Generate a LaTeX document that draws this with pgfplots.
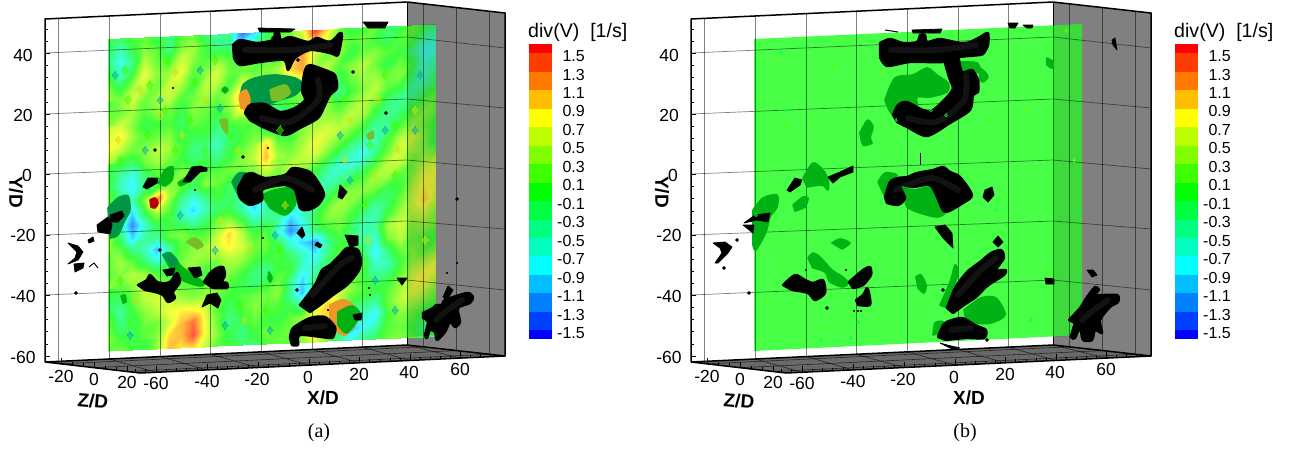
\documentclass[border=0pt]{standalone}
\usepackage{pgfplots}
\pgfplotsset{compat=1.18}
\usepackage{fontspec}
\setmainfont{Liberation Sans}
\newfontfamily\capfont{Liberation Serif}
\newcommand\fs[1]{\fontsize{#1}{#1}\selectfont}
\pgfplotsset{panel/.style={scale only axis,hide axis,clip=false,y dir=reverse,ymin=0,ymax=450,xmin=0,height=450pt,anchor=south west,
 point meta min=-1.5,point meta max=1.5,
 colormap={div}{rgb255=(60,60,255) rgb255=(60,105,255) rgb255=(60,155,255) rgb255=(60,205,255) rgb255=(60,255,255) rgb255=(60,255,205) rgb255=(60,255,155) rgb255=(60,255,105) rgb255=(60,255,60) rgb255=(105,255,60) rgb255=(155,255,60) rgb255=(205,255,60) rgb255=(255,255,60) rgb255=(255,205,60) rgb255=(255,155,60) rgb255=(255,105,60) rgb255=(255,60,60)}},
 gl/.style={draw=black,opacity=.5,line width=.7pt},
 hl/.style={draw=black,opacity=.65,line width=.6pt}}
\definecolor{isoG}{RGB}{0,178,20}
\definecolor{isoD}{RGB}{0,150,70}
\definecolor{isoO}{RGB}{120,190,40}
\definecolor{isoR}{RGB}{240,150,40}
\definecolor{wall}{RGB}{128,128,128}
\definecolor{fl}{RGB}{105,105,105}
\definecolor{plg}{RGB}{72,255,72}
\newcommand\poly[2]{\addplot[smooth,tension=.5,fill=#1,draw=#1,line width=1.6pt,line join=round] coordinates {#2} --cycle;}
\newcommand\blk[1]{\addplot[smooth,tension=.45,fill=black,draw=black,line width=2.4pt,line join=round] coordinates {#1} --cycle;}
\newcommand\tin[1]{\addplot[fill=black,draw=black,line width=.8pt,line join=round] coordinates {#1} --cycle;}
\newcommand\seg[2]{\addplot[#1] coordinates {#2};}
\newcommand\hi[1]{\addplot[smooth,draw={rgb,255:red,85;green,85;blue,85},line width=6pt,opacity=.22,line cap=round,line join=round] coordinates {#1};}
\newcommand\spk[2]{\addplot[only marks,mark=*,mark size=#1pt,black] coordinates {#2};}
\newcommand\sw[5]{\addplot[fill={rgb,255:red,#1;green,#2;blue,#3},draw=none] coordinates {(529,#4)(552,#4)(552,#5)(529,#5)} --cycle;}
\newcommand\lab[3]{\node[font=\fs{17.5}] at (axis cs:#1,#2) {#3};}
\newcommand\cb[2]{\node[font=\fs{16},anchor=east,inner sep=0pt] at (axis cs:585,#1) {#2};}
\newcommand\tex[4]{\addplot[only marks,mark=diamond*,mark size=#2pt,mark options={color=#1,fill=#1,opacity=#3,line width=0pt}] coordinates {#4};}
% frame walls (behind the slice)
\newcommand\walls{
\addplot[fill=white,draw=none] coordinates {(45,19)(407,2)(407,345)(45,362)} --cycle;
\addplot[fill=wall,draw=none] coordinates {(407,2)(505,13)(505,356)(407,345)} --cycle;
\addplot[fill=fl,draw=none] coordinates {(45,362)(407,345)(505,356)(140,373)} --cycle;
}
% grid, edges, ticks, labels, colour bar
\newcommand\frameall[1]{
\seg{gl}{(58,18.4)(58,361.4)}\seg{gl}{(109,16)(109,359)}\seg{gl}{(160,13.6)(160,356.6)}\seg{gl}{(210,11.2)(210,354.2)}\seg{gl}{(261,8.8)(261,351.8)}\seg{gl}{(312,6.5)(312,349.5)}\seg{gl}{(362,4.1)(362,347.1)}
\seg{gl}{(45,53)(407,37)}\seg{gl}{(45,114)(407,99)}\seg{gl}{(45,174)(407,160)}\seg{gl}{(45,235)(407,221)}\seg{gl}{(45,295)(407,280)}
\seg{gl}{(407,37)(505,48)}\seg{gl}{(407,99)(505,108)}\seg{gl}{(407,160)(505,169)}\seg{gl}{(407,221)(505,229)}\seg{gl}{(407,280)(505,290)}
\seg{gl}{(423,3.8)(423,346.8)}\seg{gl}{(456,7.6)(456,350.6)}\seg{gl}{(489,11.2)(489,354.2)}
\seg{hl}{(109,359)(156,372.3)}\seg{hl}{(160,356.6)(207,369.9)}\seg{hl}{(210,354.2)(258,367.5)}\seg{hl}{(261,351.8)(309,365.1)}\seg{hl}{(312,349.5)(359,362.8)}\seg{hl}{(362,347.1)(410,360.4)}\seg{hl}{(407,345)(460,358.1)}
\seg{hl}{(61,363.8)(423,346.8)}\seg{hl}{(94,367.7)(456,350.6)}\seg{hl}{(127,371.5)(489,354.2)}
\seg{draw=black,line width=.9pt}{(407,2)(407,26)}
\seg{draw=black,line width=.9pt}{(407,337)(407,345)}
\seg{draw={rgb,255:red,0;green,135;blue,0},line width=.9pt}{(407,26)(407,337)}
\seg{draw=black,line width=1.5pt,line join=round}{(45,362)(45,19)(407,2)(505,13)(505,356)}
\seg{draw=black,line width=1.5pt,line join=round}{(45,362)(407,345)(505,356)(140,373)(45,362)}
\addplot[only marks,mark=-,mark size=2.5pt,black,mark options={line width=.8pt}] coordinates {(47.5,53)(47.5,114)(47.5,174)(47.5,235)(47.5,295)(47.5,356)};
\addplot[only marks,mark=-,mark size=1.5pt,black,mark options={line width=.5pt}] coordinates {(46.5,29)(46.5,41)(46.5,65)(46.5,77)(46.5,89)(46.5,102)(46.5,126)(46.5,138)(46.5,150)(46.5,162)(46.5,186)(46.5,198)(46.5,211)(46.5,223)(46.5,247)(46.5,259)(46.5,271)(46.5,283)(46.5,307)(46.5,319)(46.5,331)(46.5,344)};
\addplot[only marks,mark=|,mark size=3pt,black,mark options={line width=.9pt}] coordinates {(156,369.3)(207,366.9)(258,364.5)(309,362.1)(359,359.8)(410,357.4)(460,355.1)(61,361.3)(94,365.2)(127,369)};
\addplot[only marks,mark=|,mark size=1.5pt,black,mark options={line width=.5pt}] coordinates {(166,370.3)(176,369.8)(186,369.3)(197,368.9)(217,367.9)(227,367.5)(238,367)(248,366.5)(268,365.6)(278,365.1)(289,364.6)(299,364.1)(319,363.2)(329,362.7)(339,362.3)(349,361.8)(369,360.9)(380,360.4)(390,359.9)(400,359.4)(420,358.5)(430,358)(440,357.6)(450,357.1)(470,356.2)(480,355.7)(490,355.2)(135,370.5)(145,370.6)(72,363.4)(83,364.6)(105,367.2)(116,368.4)};
\lab{23}{55}{40}\lab{23}{115}{20}\lab{27}{175}{0}\lab{23}{235}{-20}\lab{23}{296}{-40}\lab{23}{357}{-60}
\lab{61}{376}{-20}\lab{94}{379}{0}\lab{127}{382}{20}
\lab{156}{383}{-60}\lab{207}{381}{-40}\lab{257}{379}{-20}\lab{308}{377}{0}\lab{359}{374}{20}\lab{409}{372}{40}\lab{460}{369}{60}
\node[font=\fs{19}\bfseries,rotate=-90] at (axis cs:16,192) {Y/D};
\node[font=\fs{19}\bfseries,rotate=-5] at (axis cs:93,401) {Z/D};
\node[font=\fs{19}\bfseries] at (axis cs:323,398) {X/D};
\node[font=\capfont\fs{20}] at (axis cs:319,433) {(#1)};
\node[font=\fs{19.6},anchor=west,inner sep=0pt] at (axis cs:528,32) {div(V)\ \ [1/s]};
\sw{255}{0}{0}{44.3}{53.3}\sw{255}{60}{0}{53.3}{71.7}\sw{255}{120}{0}{71.7}{90.3}\sw{255}{190}{0}{90.3}{108.7}\sw{255}{255}{0}{108.7}{127}\sw{190}{255}{0}{127}{145.7}\sw{128}{255}{0}{145.7}{164}\sw{64}{255}{0}{164}{182.7}\sw{0}{255}{0}{182.7}{201.3}\sw{0}{255}{64}{201.3}{219.7}\sw{0}{255}{128}{219.7}{238}\sw{0}{255}{190}{238}{256.3}\sw{0}{255}{255}{256.3}{275}\sw{0}{190}{255}{275}{293.3}\sw{0}{128}{255}{293.3}{311.7}\sw{0}{64}{255}{311.7}{330}\sw{0}{0}{255}{330}{339.3}
\cb{56}{1.5}\cb{74.5}{1.3}\cb{93}{1.1}\cb{111.4}{0.9}\cb{129.9}{0.7}\cb{148.4}{0.5}\cb{166.8}{0.3}\cb{185.3}{0.1}\cb{203.8}{-0.1}\cb{222.2}{-0.3}\cb{240.7}{-0.5}\cb{259.2}{-0.7}\cb{277.6}{-0.9}\cb{296.1}{-1.1}\cb{314.6}{-1.3}\cb{333}{-1.5}
}
\newcommand\stripov{\addplot[fill=black,draw=none,opacity=.15] coordinates {(407,25.3)(436,24)(436,335)(407,337.3)} --cycle;}
\begin{document}
\begin{tikzpicture}
\useasboundingbox (0,0) rectangle (1297pt,450pt);
\begin{axis}[panel,xmax=646,width=646pt,at={(0pt,0pt)}]
\walls
\addplot[surf,shader=interp,mesh/cols=28,point meta=explicit] table[header=false,row sep=\\,meta index=0,
 x expr={108+12.148*mod(\coordindex,28)},y expr={39+12.48*floor(\coordindex/28)-0.555*mod(\coordindex,28)}] {
.0\\-.2\\.1\\.2\\-.1\\-.3\\.1\\.2\\-.2\\-.4\\-.3\\-1.3\\-.9\\-.2\\.1\\.2\\.6\\1.5\\.9\\.2\\-.1\\.0\\.2\\-.2\\-.1\\.2\\.0\\-.2\\
-.2\\-.5\\-.1\\.3\\.1\\-.3\\.3\\.4\\.0\\-.3\\-.3\\-.6\\-.4\\.0\\.2\\.3\\.4\\.9\\.6\\.3\\.1\\.2\\.0\\-.2\\.1\\.1\\-.4\\-.5\\
-.3\\-.7\\-.3\\.5\\.2\\.1\\.6\\.3\\.1\\.3\\.1\\.0\\.2\\.1\\.0\\.6\\1.1\\.5\\.2\\.3\\-.1\\.2\\.3\\.1\\.0\\-.3\\-.7\\-.6\\
.0\\-.5\\.0\\.7\\.3\\.4\\.7\\.1\\.3\\.6\\.2\\.2\\.1\\.3\\.4\\.9\\1.1\\.4\\.5\\.1\\.3\\.5\\.2\\-.1\\.2\\.0\\-.6\\-.4\\
.3\\-.1\\.4\\.5\\.2\\.6\\.4\\.0\\.5\\.5\\.0\\.6\\.4\\.1\\.3\\.5\\.6\\.3\\.3\\-.1\\.2\\.4\\.4\\.2\\.3\\-.2\\-.5\\-.2\\
.4\\.3\\.6\\.2\\.4\\.5\\.1\\.2\\.4\\.2\\.4\\1.1\\.5\\.2\\.0\\.2\\.3\\.6\\.1\\-.3\\.0\\.3\\.5\\.1\\-.1\\-.4\\-.3\\.0\\
.1\\.2\\.4\\.1\\.3\\.2\\-.1\\.3\\.2\\.0\\.3\\.9\\.3\\-.1\\-.2\\.0\\.2\\.5\\.3\\.0\\.3\\.5\\.2\\-.2\\-.4\\-.2\\.1\\.2\\
.3\\.6\\.3\\-.1\\.0\\.1\\-.2\\.2\\.1\\-.2\\.1\\.2\\.1\\-.3\\-.5\\-.3\\.1\\.3\\.4\\.3\\.5\\.4\\-.1\\-.3\\-.2\\.1\\.3\\.1\\
.5\\.8\\.4\\.1\\.2\\.3\\-.1\\-.1\\.0\\-.4\\-.2\\.0\\.2\\.1\\-.2\\-.1\\.3\\.5\\.6\\.5\\.3\\.0\\-.4\\-.3\\.1\\.4\\.2\\-.1\\
.7\\.5\\.2\\.3\\.5\\.4\\.1\\-.3\\-.3\\-.5\\-.1\\.1\\.4\\.9\\.2\\.1\\.4\\.7\\.5\\.2\\-.1\\-.4\\-.5\\.0\\.5\\.6\\.3\\-.2\\
.4\\.0\\-.2\\.2\\.4\\.2\\.0\\-.2\\-.1\\-.3\\.0\\.3\\.5\\1.0\\.4\\.3\\.5\\.6\\.2\\-.2\\-.5\\-.7\\-.3\\.2\\.6\\.4\\.3\\.2\\
.1\\-.4\\-.7\\-.2\\.1\\.0\\.3\\.2\\.1\\.1\\.2\\.2\\.3\\.6\\.3\\.5\\.4\\.1\\-.3\\-.6\\-.6\\-.4\\.1\\.5\\.5\\.2\\.5\\.6\\
-.1\\-.5\\-.8\\-.3\\.0\\.3\\.2\\-.2\\.3\\.2\\-.1\\-.1\\.0\\.2\\.1\\.2\\.1\\-.2\\-.5\\-.4\\-.1\\.1\\.4\\.4\\.1\\.3\\.7\\.7\\
.1\\-.2\\-.5\\.3\\1.3\\.4\\-.3\\-.6\\-.3\\.0\\-.2\\-.4\\-.5\\-.1\\.0\\-.1\\-.2\\-.5\\-.3\\.1\\.3\\.3\\.2\\-.1\\.0\\.5\\.8\\.6\\
.2\\-.4\\-.9\\-.1\\.5\\.1\\-.5\\-.9\\-.5\\-.2\\-.1\\-.5\\-.9\\-.5\\-.3\\-.4\\-.5\\-.3\\.1\\.4\\.3\\.0\\-.3\\-.2\\.2\\.6\\.9\\.5\\
.0\\-.5\\-1.2\\-.6\\-.1\\.0\\-.2\\-.4\\-.2\\.2\\.4\\.0\\-.5\\-.3\\-.4\\-.9\\-.6\\-.1\\.3\\.3\\.0\\-.3\\-.5\\.0\\.4\\.5\\.6\\.3\\
.3\\-.2\\-.9\\-.4\\-.3\\.2\\.3\\.1\\.1\\.5\\.9\\.5\\.0\\.1\\-.6\\-1.2\\-.8\\-.2\\.0\\.2\\-.2\\-.5\\-.4\\.4\\.6\\.3\\.4\\.2\\
.4\\.2\\-.3\\-.5\\-1.0\\-.4\\.1\\.3\\.4\\.6\\.8\\.6\\.2\\.2\\-.1\\-.6\\-.9\\-1.1\\-.4\\.0\\-.1\\-.4\\-.6\\.2\\.5\\.2\\.1\\.0\\
.2\\.4\\.2\\-.2\\-.6\\-.2\\.2\\.4\\.3\\.3\\.5\\.4\\.1\\.0\\.1\\-.2\\-.5\\-.8\\-.3\\.1\\.2\\-.2\\-.8\\-.3\\.2\\.3\\.1\\.3\\
.1\\.3\\.5\\.4\\.1\\.0\\.3\\.2\\.0\\.1\\.3\\.1\\-.2\\-.3\\.0\\.0\\-.6\\-.5\\-.1\\.3\\.4\\.1\\-.6\\-.5\\.0\\.4\\.5\\.7\\
.3\\.1\\.3\\.6\\.4\\.3\\.1\\.1\\.2\\.3\\.1\\-.1\\-.3\\-.1\\.2\\-.3\\-.9\\-.2\\.2\\.4\\.2\\.0\\-.3\\-.2\\.2\\.6\\.8\\.6\\
.0\\-.2\\.1\\.5\\.6\\.6\\.4\\.3\\.4\\.2\\.0\\.1\\.2\\.2\\.3\\-.4\\-1.0\\-.1\\.5\\.6\\.3\\.1\\.0\\.1\\.4\\.7\\.6\\.3\\
-.2\\-.4\\.0\\.3\\.5\\.7\\.8\\.8\\.6\\.1\\-.2\\.1\\.3\\.1\\.1\\-.1\\-.3\\.5\\.9\\.4\\.0\\-.2\\-.4\\.2\\.5\\.5\\.3\\.1\\
.1\\-.3\\-.2\\.2\\.2\\.6\\1.0\\1.3\\.7\\.2\\-.3\\-.1\\.2\\.0\\-.1\\.2\\.3\\.8\\.9\\.0\\-.7\\-.5\\-.8\\.0\\.3\\.2\\-.1\\.0\\
.3\\.0\\-.1\\.1\\.3\\.9\\1.0\\1.4\\.7\\.3\\-.1\\-.3\\.0\\.2\\.1\\.2\\.5\\1.0\\.6\\-.4\\-1.0\\-.7\\-.5\\.1\\.2\\.0\\-.3\\-.1\\
.2\\.2\\.0\\-.1\\.4\\1.0\\.8\\.9\\.5\\.1\\.0\\-.2\\-.2\\.1\\.2\\.1\\.3\\.6\\.2\\-.3\\-.6\\-.3\\-.1\\.2\\.3\\.1\\-.2\\.0\\
};
\tex{green!75!yellow}{4.5}{.5}{(125,70)(150,85)(168,62)(195,82)(215,60)(128,100)(165,110)(190,120)(148,135)(205,150)(120,160)(175,150)(230,135)(345,100)(385,75)(370,145)(395,125)(130,325)(120,280)(240,305)(265,310)(280,250)(280,130)(365,205)(395,175)}
\tex{yellow!80!green}{4}{.5}{(140,90)(175,72)(205,100)(118,140)(182,135)(160,115)(238,150)(350,120)(378,100)(345,160)(375,175)(398,150)(220,220)(250,250)(135,300)(245,320)(285,205)(368,240)(415,110)(425,240)}
\tex{cyan!60!green}{4}{.5}{(115,75)(160,100)(200,70)(220,108)(145,150)(180,215)(215,250)(275,235)(350,180)(385,130)(130,335)(225,325)(270,330)(375,280)(395,310)(420,75)(415,130)(340,135)}
\stripov
\frameall{a}
% coloured isosurface patches
\poly{isoD}{(240,100)(243,85)(255,78)(275,75)(295,78)(303,85)(295,95)(280,100)(265,105)(250,104)(245,110)}
\poly{isoR}{(241,108)(240,95)(246,90)(250,100)(247,110)}
\poly{isoO}{(270,90)(285,85)(290,93)(280,100)(272,100)}
\poly{isoG}{(262,195)(275,190)(295,188)(295,205)(285,215)(270,208)}
\poly{isoD}{(232,182)(239,173)(251,175)(244,182)(239,197)}
\poly{isoG}{(158,183)(165,170)(173,167)(172,180)(165,186)}
\poly{isoG}{(178,183)(190,175)(188,182)(180,186)}
\poly{isoD}{(108,208)(118,198)(128,196)(130,210)(125,220)(118,235)(110,238)}
\poly{isoG}{(163,255)(170,253)(182,267)(203,282)(200,286)(182,280)(170,268)}
\poly{isoD}{(163,255)(170,253)(178,262)(172,268)}
\poly{isoO}{(187,242)(195,238)(203,245)(197,249)}
\poly{isoG}{(222,90)(225,87)(228,90)(225,93)}
\poly{isoO}{(220,120)(227,120)(227,133)(222,127)}
\poly{isoG}{(121,296)(125,295)(126,302)(123,303)}
\poly{isoG}{(269,272)(272,278)(270,282)(268,278)}
\poly{isoR}{(330,305)(345,300)(360,315)(345,335)(330,325)}
\poly{isoG}{(338,312)(352,306)(360,315)(347,333)(338,325)}
\poly{isoO}{(367,135)(373,131)(373,138)(369,139)}
% red spot and black isosurfaces
\poly{red!70!black}{(150,200)(155,198)(158,203)(155,208)(151,207)}
\blk{(233,45)(240,40)(257,43)(273,40)(275,33)(279,33)(281,40)(290,37)(308,42)(317,38)(330,42)(340,33)(342,36)(338,55)(330,53)(310,50)(295,58)(288,70)(284,60)(260,62)(240,65)(234,58)}
\blk{(245,113)(250,105)(265,104)(280,112)(295,108)(305,100)(302,90)(305,70)(310,65)(325,70)(335,75)(337,88)(330,95)(325,105)(318,118)(300,128)(285,135)(265,128)(250,120)}
\blk{(245,175)(252,173)(265,178)(285,175)(293,168)(310,172)(320,185)(324,195)(318,205)(308,210)(300,208)(295,190)(285,185)(270,187)(262,190)(262,200)(250,205)(240,198)(238,188)}
\tin{(143,187)(148,178)(158,178)(157,183)(147,189)}
\tin{(183,182)(192,167)(200,166)(207,168)(207,171)(200,172)(190,182)}
\tin{(97,225)(108,217)(112,225)(110,234)(98,232)}
\tin{(110,215)(122,211)(124,216)(118,222)(110,222)}
\blk{(138,285)(147,280)(150,275)(157,282)(163,283)(170,282)(177,273)(180,282)(173,292)(175,298)(168,302)(163,295)(155,292)(145,290)}
\tin{(188,268)(200,267)(202,275)(195,278)}
\tin{(163,270)(175,268)(173,275)(167,276)}
\blk{(204,282)(210,273)(217,268)(223,267)(225,275)(222,282)(227,283)(227,288)(213,288)}
\tin{(202,307)(207,295)(217,293)(221,300)(218,308)(210,303)}
\tin{(68,243)(78,246)(83,252)(78,260)(68,264)(75,258)(77,252)}
\tin{(74,264)(84,263)(83,268)(75,272)}
\tin{(88,240)(93,237)(94,241)(89,243)}
\seg{draw=black,line width=.9pt}{(89,267)(94,263)(98,268)}
\blk{(300,305)(315,285)(322,270)(330,265)(340,255)(347,248)(358,250)(361,262)(358,272)(347,285)(333,295)(320,305)(310,312)}
\tin{(345,235)(358,236)(358,245)(350,247)}
\blk{(290,338)(293,328)(310,318)(325,317)(335,327)(334,335)(330,338)(300,335)(298,345)(292,345)}
\tin{(353,315)(362,313)(361,320)(355,320)}
\blk{(423,313)(433,308)(436,305)(442,305)(445,300)(467,293)(473,297)(470,303)(458,308)(460,322)(455,327)(450,322)(445,332)(437,340)(435,332)(430,330)(427,338)(425,335)(428,322)(423,318)}
\tin{(443,297)(448,286)(453,290)(447,300)}
\tin{(363,22)(388,22)(385,28)(368,28)}
\tin{(258,28)(295,29)(290,32)(260,32)}
\tin{(340,185)(347,192)(342,199)(338,197)}
\tin{(302,227)(305,235)(302,238)(297,233)}
\tin{(317,242)(322,245)(320,248)(315,245)}
\tin{(397,278)(407,278)(402,285)}
\spk{1.6}{(353,72)(386,113)(243,157)(155,150)(160,250)(457,199)(297,290)(76,293)(273,38)(298,60)}
\spk{.9}{(263,238)(447,273)(457,263)(173,88)(268,148)(195,190)(328,310)(370,295)(369,288)}
\hi{(245,50)(290,50)(330,45)}\hi{(262,118)(290,122)(318,100)(318,80)}\hi{(255,190)(285,178)(312,190)}\hi{(312,295)(340,265)(352,258)}\hi{(305,328)(325,326)}\hi{(436,320)(445,312)(462,300)}
\end{axis}
\begin{axis}[panel,xmax=651,width=651pt,at={(646pt,0pt)}]
\walls
\addplot[fill=plg,draw=none] coordinates {(108,39)(436,24)(436,335)(108,351)} --cycle;
\tex{green!55!yellow}{2}{.5}{(130,60)(141,80)(175,90)(190,66)(238,72)(140,125)(165,118)(300,135)(250,135)(120,300)(180,328)(250,330)(380,110)(420,30)(428,160)(400,270)(135,260)(345,120)(175,70)(218,72)}
\tex{green!65!cyan}{1.8}{.5}{(135,52)(250,120)(110,215)(285,110)(205,338)(212,322)(385,320)(350,210)(140,110)(175,340)(300,115)}
\stripov
\frameall{b}
\poly{isoG}{(239,100)(249,78)(267,75)(281,68)(291,75)(302,83)(301,92)(284,97)(271,97)(271,105)(264,103)(252,107)(247,115)(242,108)}
\poly{isoG}{(314,62)(331,63)(334,72)(326,72)(317,72)}
\poly{isoG}{(217,127)(222,120)(227,127)(224,138)(226,143)(217,145)(214,133)}
\poly{isoG}{(232,182)(239,173)(251,175)(244,182)(239,197)}
\poly{isoG}{(254,185)(267,190)(284,187)(291,197)(299,212)(291,217)(274,213)(261,207)(259,197)}
\poly{isoG}{(157,178)(167,163)(177,170)(182,180)(182,190)(176,185)(161,187)}
\poly{isoG}{(147,205)(157,197)(162,198)(159,207)(149,211)}
\poly{isoG}{(107,210)(117,198)(131,195)(131,207)(124,217)(120,232)(110,250)(107,245)}
\poly{isoG}{(186,243)(194,239)(204,243)(196,249)}
\poly{isoG}{(162,258)(167,253)(174,257)(186,270)(197,277)(202,283)(197,287)(184,282)(179,272)(167,268)}
\poly{isoG}{(294,305)(304,282)(309,265)(312,273)(306,292)(301,308)}
\poly{isoG}{(318,310)(335,298)(350,298)(359,315)(345,323)(330,323)(320,320)}
\poly{isoG}{(287,335)(289,323)(297,322)(294,333)}
\poly{isoG}{(334,68)(339,72)(342,77)(337,82)(334,80)}
\poly{isoG}{(401,58)(407,62)(406,68)(401,65)}
\poly{isoG}{(270,277)(275,275)(280,285)(278,293)(272,288)}
\blk{(234,43)(244,39)(257,43)(271,42)(274,35)(279,35)(281,42)(294,39)(314,43)(324,42)(334,37)(342,33)(342,45)(338,53)(334,55)(314,57)(297,62)(264,62)(241,66)(234,57)}
\blk{(247,115)(252,105)(261,102)(277,110)(287,110)(301,97)(307,88)(304,80)(299,60)(311,55)(316,72)(326,70)(332,80)(332,92)(327,95)(324,110)(304,123)(281,136)(261,127)(251,122)}
\blk{(239,197)(244,182)(252,178)(261,177)(271,173)(287,170)(297,167)(304,172)(314,177)(326,195)(317,203)(299,212)(291,197)(284,185)(267,187)(254,185)(259,198)(252,205)(241,203)}
\tin{(141,190)(149,178)(156,180)(154,185)(144,192)}
\tin{(182,177)(194,172)(207,166)(207,172)(194,177)(187,183)}
\seg{draw=black,line width=1pt}{(274,153)(274,165)}
\tin{(98,223)(109,215)(124,213)(122,222)(111,220)}
\tin{(97,225)(107,233)(108,225)}
\tin{(67,243)(79,242)(86,247)(82,253)(72,263)(69,263)(76,253)(74,248)}
\blk{(137,285)(149,275)(159,280)(167,283)(177,280)(179,293)(169,300)(162,293)(146,290)}
\blk{(203,282)(217,270)(224,267)(225,275)(217,285)(207,288)}
\blk{(210,300)(217,295)(221,288)(223,293)(224,305)(212,305)}
\tin{(289,227)(299,225)(306,233)(307,248)(297,238)}
\blk{(301,308)(309,288)(321,272)(334,262)(345,253)(355,250)(358,258)(350,270)(360,270)(358,275)(347,282)(340,287)(330,297)(318,305)(307,313)}
\tin{(347,242)(352,236)(357,242)(352,247)}
\blk{(292,337)(299,323)(316,318)(329,325)(340,330)(338,338)(320,338)(300,340)}
\tin{(294,343)(301,345)(314,348)(306,349)}
\tin{(339,190)(346,187)(348,195)(342,202)(337,197)}
\tin{(441,270)(447,270)(451,275)(446,277)}
\tin{(399,278)(408,279)(408,284)(400,284)}
\tin{(466,40)(469,38)(471,50)(467,45)}
\tin{(362,23)(372,23)(369,28)(364,28)}
\tin{(377,25)(387,25)(386,28)(381,28)}
\tin{(266,30)(296,29)(294,33)(267,33)}
\seg{draw=black,line width=1pt}{(239,30)(252,32)}
\blk{(423,320)(434,308)(441,297)(449,287)(453,290)(449,295)(471,295)(472,302)(464,307)(454,320)(456,333)(449,330)(446,340)(437,340)(434,328)(429,338)(425,337)(429,323)}
\spk{1.6}{(78,268)(91,240)(103,293)(181,308)(297,290)(341,340)}
\spk{.9}{(208,311)(212,311)(215,311)(160,270)(200,270)(336,285)}
\hi{(245,50)(290,50)(330,45)}\hi{(262,118)(290,122)(318,100)(320,75)}\hi{(250,190)(285,178)(312,190)}\hi{(312,295)(335,270)(350,258)}\hi{(305,330)(325,328)}\hi{(436,320)(445,312)(462,300)}
\end{axis}
\end{tikzpicture}
\end{document}
